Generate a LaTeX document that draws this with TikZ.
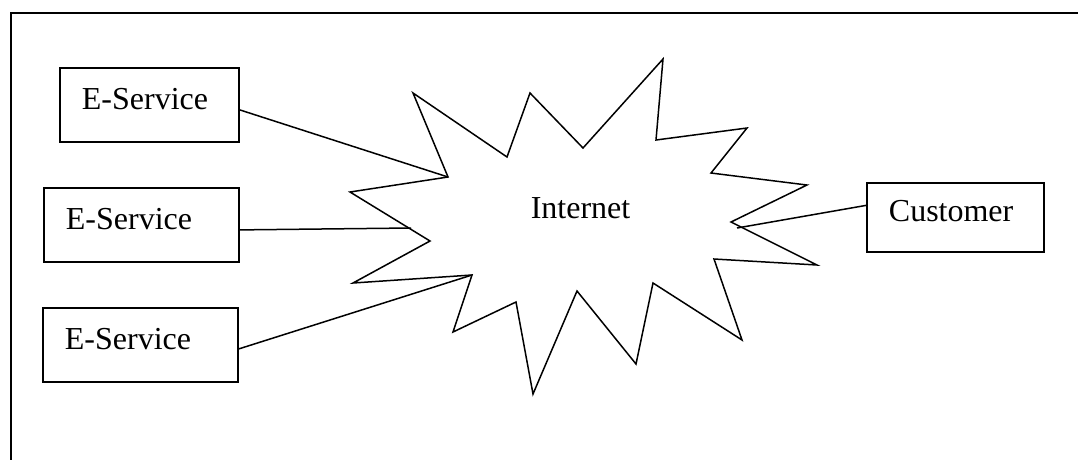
\documentclass[tikz,border=0pt]{standalone}
\usepackage{fontspec}
\setmainfont{Liberation Serif}
\usepackage{tikz}
\usetikzlibrary{positioning,calc}
\tikzset{
  svcbox/.style={rectangle, draw, line width=1.8pt, align=left, anchor=north west,
                 font=\fontsize{32}{38}\selectfont, inner xsep=22pt, inner ysep=21pt,
                 text height=21pt, text depth=11pt, fill=white},
  custbox/.style={svcbox, inner ysep=18pt, text depth=12pt},
  burst/.style={draw, line width=1.5pt, line join=miter, fill=white},
  link/.style={line width=1.5pt},
  frame/.style={line width=1.8pt},
  lbl/.style={font=\fontsize{32}{38}\selectfont, inner sep=0pt},
}
\begin{document}
\begin{tikzpicture}[x=1pt,y=-1pt]
\useasboundingbox (0,0) rectangle (1078,459);
\draw[frame] (11,470) -- (11,13) -- (1090,13);
% the Internet burst
\draw[burst] (413,93) -- (507,157) -- (530,93) -- (583,148) -- (663,59)
  -- (656,140) -- (747,128) -- (711,173) -- (807,185) -- (731,222)
  -- (817,265) -- (714,259) -- (742,340) -- (653,283) -- (636,364)
  -- (577,291) -- (533,394) -- (516,302) -- (453,332) -- (472,275)
  -- (353,283) -- (430,241) -- (350,192) -- (448,177) -- cycle;
\node[lbl, anchor=base] (net) at (580.5,218) {Internet};
\coordinate (hub1) at (448,177);
\coordinate (hub2) at (411,228);
\coordinate (hub3) at (472,275);
\coordinate (hub4) at (737,228);
% boxes
\node[svcbox, text width=135pt] (svc1) at (59,67) {E-Service};
\node[svcbox, text width=151pt] (svc2) at (43,187) {E-Service};
\node[svcbox, text width=151pt] (svc3) at (42,307) {E-Service};
\node[custbox, text width=133pt] (cust) at (866,182) {Customer};
% links
\draw[link] ([yshift=-5pt]svc1.east) -- (hub1);
\draw[link] ([yshift=-5pt]svc2.east) -- (hub2);
\draw[link] ([yshift=-4pt]svc3.east) -- (hub3);
\draw[link] ([yshift=12pt]cust.west) -- (hub4);
\end{tikzpicture}
\end{document}
